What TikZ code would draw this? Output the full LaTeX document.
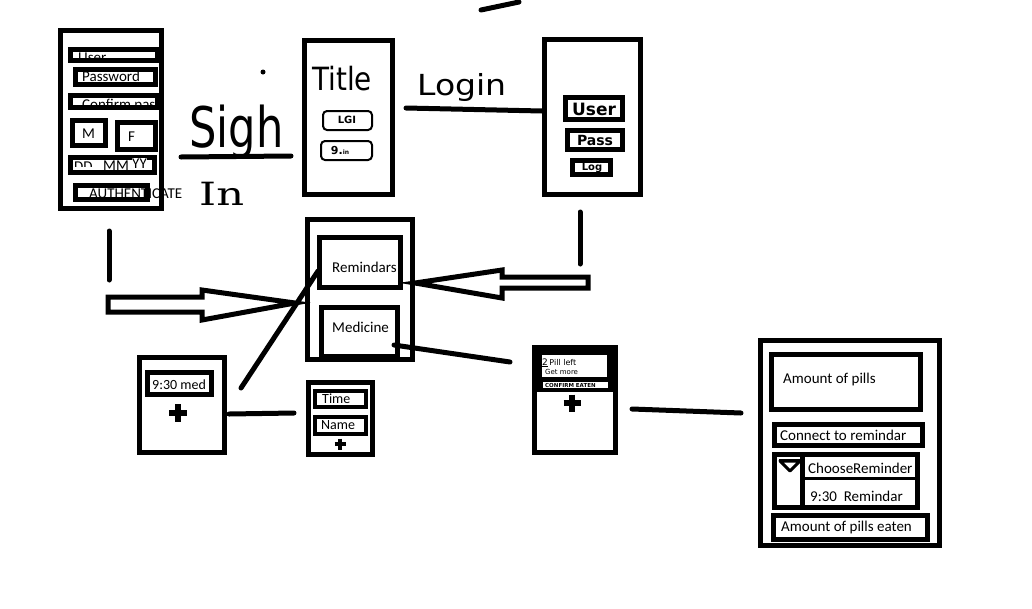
\documentclass[tikz,border=0pt]{standalone}
\usepackage{fontspec}
\usepackage{graphicx}
\setmainfont{Carlito}
\newfontfamily\hand{DejaVu Sans}
\newfontfamily\handserif{DejaVu Serif}
\newcommand\myfs[1]{\fontsize{#1}{#1}\selectfont}
\newcommand\myplus[3]{%
  \draw[line width=0.34*#3 pt] ({#1-#3/2},#2) -- ({#1+#3/2},#2) (#1,{#2-#3/2}) -- (#1,{#2+#3/2});
  \fill (#1,#2) circle ({0.24*#3});}
\begin{document}
\begin{tikzpicture}[x=1pt,y=-1pt,
  screen/.style={draw=black,line width=5pt},
  fld/.style={draw=black,line width=5pt},
  txt/.style={inner sep=0pt,anchor=base west,font={\myfs{15}}},
  hw/.style={inner sep=0pt,anchor=base west},
  scrib/.style={inner sep=0pt,anchor=center},
  conn/.style={draw=black,line width=5pt,line cap=round},
  blockarrow/.style={draw=black,line width=5pt,fill=white,line join=miter}]
\useasboundingbox[fill=white] (0,0) rectangle (1032,608);

% ---------- sign-up screen ----------
\draw[screen] (60.5,30.5) rectangle (161.5,208.5);
\begin{scope}
  \clip (73,52) rectangle (155,58);
  \node[txt] (user) at (78,62) {User};
\end{scope}
\draw[fld] (70.5,49.5) rectangle (157.5,60.5);
\node[txt] (pw) at (82,81) {Password};
\draw[fld] (75.5,69.5) rectangle (155.5,84.5);
\begin{scope}
  \clip (73,98) rectangle (155,105);
  \node[txt] (cpw) at (82,109) {Confirm pass};
\end{scope}
\draw[fld] (70.5,95.5) rectangle (157.5,107.5);
\draw[fld] (72.5,120.5) rectangle (105.5,145.5);
\node[txt] (m) at (82,138) {M};
\draw[fld] (117.5,122.5) rectangle (155.5,149.5);
\node[txt] (f) at (128,141) {F};
\draw[fld] (70.5,157.5) rectangle (154.5,172.5);
\begin{scope}
  \clip (73,160) rectangle (152,166);
  \node[txt] (dd) at (74,171) {DD};
\end{scope}
\node[txt,fill=white] (mm) at (103,170) {MM};
\node[txt,fill=white] (yy) at (132,168) {YY};
\node[txt] (auth) at (89,198) {AUTHENTICATE};
\draw[fld] (75.5,185.5) rectangle (147.5,199.5);

% ---------- Sign In label ----------
\node[hw,font=\hand] (sigh) at (189,147) {\myfs{40}\scalebox{1.08}[1.4]{Sigh}};
\draw[conn] (181,157) -- (291,156);
\node[hw,font=\handserif] (in) at (199,205) {\myfs{32}\scalebox{1.35}[1]{In}};
\fill (263,72) circle (2.5);

% ---------- title screen ----------
\draw[screen] (304.5,40.5) rectangle (392.5,194.5);
\node[hw,font=\hand] (title) at (312,90) {\myfs{32}\scalebox{0.87}[1]{Title}};
\draw[line width=2pt,rounded corners=4pt] (323,111) rectangle (372,130);
\node[scrib,font=\hand\bfseries] (lgi) at (347,120) {\myfs{10}LGI};
\draw[line width=2pt,rounded corners=4pt] (321,141) rectangle (372,160);
\node[scrib,font=\hand\bfseries] (sin) at (340,150) {\myfs{11}9.\myfs{6}in};

% ---------- Login label ----------
\node[hw,font=\hand] (login) at (417,95) {\myfs{29}\scalebox{1.14}[1]{Login}};
\coordinate (lgA) at (406,108);
\coordinate (lgB) at (542,111);
\draw[conn] (lgA) -- (lgB);

% ---------- login screen ----------
\draw[screen] (544.5,39.5) rectangle (640.5,194.5);
\draw[fld] (565.5,97.5) rectangle (622.5,119.5);
\node[scrib,font=\hand\bfseries] (luser) at (594,109) {\myfs{17}User};
\draw[fld] (567.5,130.5) rectangle (622.5,149.5);
\node[scrib,font=\hand\bfseries] (lpass) at (595,140) {\myfs{14}Pass};
\draw[fld] (572.5,160.5) rectangle (610.5,174.5);
\node[scrib,font=\hand\bfseries] (llog) at (592,168) {\myfs{10}Log};

% stray line at the top
\coordinate (tA) at (481,10);
\coordinate (tB) at (519,2);
\draw[conn] (tA) -- (tB);

% ---------- centre screen ----------
\draw[screen] (307.5,219.5) rectangle (412.5,359.5);
\draw[fld] (319.5,237.5) rectangle (400.5,287.5);
\node[txt] (rem) at (332,272) {Remindars};
\draw[fld] (321.5,307.5) rectangle (397.5,356.5);
\node[txt] (med) at (332,332) {Medicine};

% ---------- block arrows ----------
\coordinate (vlA) at (109,231);
\coordinate (vlB) at (109,280);
\draw[conn] (vlA) -- (vlB);
\draw[blockarrow] (108,297) -- (202,297) -- (202,290) -- (295,303) -- (202,320) -- (202,312) -- (108,312) -- cycle;
\coordinate (vrA) at (580,212);
\coordinate (vrB) at (580,264);
\draw[conn] (vrA) -- (vrB);
\draw[blockarrow] (588,277) -- (502,277) -- (502,270) -- (415,283) -- (502,298) -- (502,288) -- (588,288) -- cycle;

% ---------- 9:30 med screen ----------
\draw[screen] (139.5,357.5) rectangle (224.5,452.5);
\draw[fld] (147.5,372.5) rectangle (211.5,394.5);
\node[txt,font={\myfs{14}}] (med930) at (152,389) {9:30 med};
\myplus{178}{413}{18}
\coordinate (dgA) at (318,271);
\coordinate (dgB) at (241,388);
\draw[conn] (dgA) -- (dgB);
\coordinate (hA) at (229,414);
\coordinate (hB) at (294,413);
\draw[conn] (hA) -- (hB);

% ---------- time / name screen ----------
\draw[screen] (308.5,382.5) rectangle (372.5,454.5);
\draw[line width=4pt] (315,391) rectangle (366,407);
\node[txt,font={\myfs{14}}] (time) at (322,403) {Time};
\draw[line width=4pt] (315,417) rectangle (366,434);
\node[txt,font={\myfs{14}}] (name) at (321,429) {Name};
\myplus{340}{444}{11}

% ---------- medicine -> pill screen ----------
\coordinate (mA) at (394,345);
\coordinate (mB) at (510,362);
\draw[conn] (mA) -- (mB);
\draw[screen] (534.5,347.5) rectangle (615.5,452.5);
\fill (537,350) rectangle (613,392);
\fill[white] (542,355) rectangle (607,377);
\fill[white] (543,381.5) rectangle (608,388);
\node[hw,font=\hand] (pill) at (542,365) {\myfs{9}\underline{2}\,\myfs{8}Pill left};
\node[hw,font=\hand] (getmore) at (545,374) {\myfs{7}Get more};
\node[hw,font=\hand\bfseries] (confirm) at (545,387) {\myfs{5.5}CONFIRM EATEN};
\myplus{572}{403}{17}
\coordinate (pA) at (632,409);
\coordinate (pB) at (741,413);
\draw[conn] (pA) -- (pB);

% ---------- right panel ----------
\draw[screen] (760.5,340.5) rectangle (939.5,545.5);
\draw[fld] (771.5,354.5) rectangle (920.5,409.5);
\node[txt] (amount) at (783,383) {Amount of pills};
\draw[fld] (774.5,424.5) rectangle (922.5,445.5);
\node[txt] (connect) at (780,440) {Connect to remindar};
\draw[fld] (774.5,454.5) rectangle (917.5,507.5);
\draw[line width=5pt] (802.5,454.5) -- (802.5,507.5);
\draw[line width=3pt] (802.5,478.5) -- (917.5,478.5);
\node[txt] (choose) at (808,473) {ChooseReminder};
\node[txt] (rem930) at (810,501) {9:30\ \ Remindar};
\draw[line width=3pt,line join=round] (780,461) -- (800,461) -- (790,471) -- cycle;
\fill (779,458.5) rectangle (801,462);
\draw[fld] (773.5,515.5) rectangle (927.5,539.5);
\node[txt] (eaten) at (781,531) {Amount of pills eaten};
\end{tikzpicture}
\end{document}
